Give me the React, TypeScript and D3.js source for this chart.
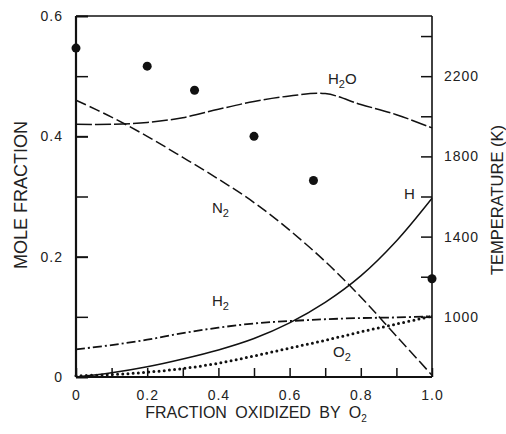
import React, { useRef, useEffect } from 'react';
import * as d3 from 'd3';

// fraction oxidized by O2 (x) for the species curves
const fracs = [0, 0.1, 0.2, 0.3, 0.4, 0.5, 0.6, 0.7, 0.8, 0.9, 1.0];
const h2o = [0.42, 0.42, 0.423, 0.431, 0.445, 0.458, 0.467, 0.471, 0.453, 0.436, 0.414];
const n2 = [0.46, 0.432, 0.4, 0.365, 0.329, 0.29, 0.244, 0.192, 0.133, 0.068, 0.003];
const hAtom = [0.0, 0.007, 0.017, 0.03, 0.045, 0.064, 0.09, 0.124, 0.168, 0.226, 0.297];
const h2 = [0.046, 0.053, 0.062, 0.073, 0.082, 0.089, 0.093, 0.096, 0.098, 0.099, 0.101];
const o2 = [0.002, 0.004, 0.008, 0.014, 0.023, 0.035, 0.048, 0.061, 0.075, 0.088, 0.101];

// temperature points (right axis)
const tempFracs = [0, 0.2, 0.333, 0.5, 0.667, 1.0];
const temps = [2340, 2250, 2130, 1900, 1680, 1190];

const xMajor = [0, 0.2, 0.4, 0.6, 0.8, 1.0];
const xMinor = [0.1, 0.3, 0.5, 0.7, 0.9];
const yMajor = [0, 0.2, 0.4, 0.6];
const yMinor = [0.1, 0.3, 0.5];
const tMajor = [1000, 1400, 1800, 2200];
const tMinor = [1200, 1600, 2000, 2400];

const FONT = '"Liberation Sans", Arial, sans-serif';

const App = () => {
  const svgRef = useRef(null);
  const width = 506;
  const height = 434;
  const margin = { top: 16, right: 74, bottom: 57, left: 76 };

  useEffect(() => {
    const svg = d3.select(svgRef.current);
    svg.selectAll('*').remove();

    const x = d3.scaleLinear().domain([0, 1]).range([margin.left, width - margin.right]);
    const y = d3.scaleLinear().domain([0, 0.6]).range([height - margin.bottom, margin.top]);
    const t = d3.scaleLinear().domain([700, 2500]).range([height - margin.bottom, margin.top]);

    const styleAxis = (g, major) => {
      g.select('.domain').remove();
      g.selectAll('line').attr('stroke', '#111').attr('stroke-width', major ? 2 : 1.5);
      g.selectAll('text')
        .attr('fill', '#222')
        .style('font-family', FONT)
        .style('font-size', '14px')
        .style('letter-spacing', '1px');
    };

    // bottom axis, ticks inward
    svg.append('g')
      .attr('transform', `translate(0,${height - margin.bottom})`)
      .call(d3.axisBottom(x).tickValues(xMajor).tickSizeInner(-9).tickSizeOuter(0).tickPadding(13)
        .tickFormat(d => (d === 0 ? '0' : d3.format('.1f')(d))))
      .call(g => styleAxis(g, false));
    svg.append('g')
      .attr('transform', `translate(0,${height - margin.bottom})`)
      .call(d3.axisBottom(x).tickValues(xMinor).tickSizeInner(-9).tickSizeOuter(0).tickFormat(''))
      .call(g => styleAxis(g, false));

    // left axis
    svg.append('g')
      .attr('transform', `translate(${margin.left},0)`)
      .call(d3.axisLeft(y).tickValues(yMajor).tickSizeInner(-12).tickSizeOuter(0).tickPadding(13)
        .tickFormat(d => (d === 0 ? '0' : d3.format('.1f')(d))))
      .call(g => styleAxis(g, true));
    svg.append('g')
      .attr('transform', `translate(${margin.left},0)`)
      .call(d3.axisLeft(y).tickValues(yMinor).tickSizeInner(-12).tickSizeOuter(0).tickFormat(''))
      .call(g => styleAxis(g, false));

    // right axis (temperature)
    svg.append('g')
      .attr('transform', `translate(${width - margin.right},0)`)
      .call(d3.axisRight(t).tickValues(tMajor).tickSizeInner(-11).tickSizeOuter(0).tickPadding(12)
        .tickFormat(d3.format('d')))
      .call(g => styleAxis(g, false));
    svg.append('g')
      .attr('transform', `translate(${width - margin.right},0)`)
      .call(d3.axisRight(t).tickValues(tMinor).tickSizeInner(-11).tickSizeOuter(0).tickFormat(''))
      .call(g => styleAxis(g, false));

    // frame
    const x0 = margin.left, x1 = width - margin.right;
    const y0 = margin.top, y1 = height - margin.bottom;
    svg.append('line').attr('x1', x0).attr('x2', x0).attr('y1', y0).attr('y2', y1)
      .attr('stroke', '#111').attr('stroke-width', 2.2);
    svg.append('line').attr('x1', x1).attr('x2', x1).attr('y1', y0).attr('y2', y1)
      .attr('stroke', '#111').attr('stroke-width', 1.6);
    svg.append('line').attr('x1', x0).attr('x2', x1).attr('y1', y0).attr('y2', y0)
      .attr('stroke', '#111').attr('stroke-width', 1.6);
    svg.append('line').attr('x1', x0).attr('x2', x1).attr('y1', y1).attr('y2', y1)
      .attr('stroke', '#111').attr('stroke-width', 2);

    // species curves
    const line = d3.line()
      .x((d, i) => x(fracs[i]))
      .y(d => y(d))
      .curve(d3.curveCatmullRom.alpha(0.5));

    const curves = [
      { values: h2o, dash: '16,3', width: 1.5, cap: 'butt' },
      { values: n2, dash: '11,4', width: 1.5, cap: 'butt' },
      { values: hAtom, dash: null, width: 1.5, cap: 'butt' },
      { values: h2, dash: '9,3,2,3', width: 1.8, cap: 'butt' },
      { values: o2, dash: '0,5.2', width: 3, cap: 'round' },
    ];
    curves.forEach(c => {
      svg.append('path')
        .datum(c.values)
        .attr('fill', 'none')
        .attr('stroke', '#111')
        .attr('stroke-width', c.width)
        .attr('stroke-linecap', c.cap)
        .attr('stroke-dasharray', c.dash)
        .attr('d', line);
    });

    // temperature dots
    svg.selectAll('circle.temp')
      .data(temps)
      .join('circle')
      .attr('class', 'temp')
      .attr('cx', (d, i) => x(tempFracs[i]))
      .attr('cy', d => t(d))
      .attr('r', 4.5)
      .attr('fill', '#111');

    // curve labels with subscripts
    const label = (px, py, main, sub, tail) => {
      const txt = svg.append('text')
        .attr('x', px).attr('y', py)
        .attr('fill', '#222')
        .style('font-family', FONT)
        .style('font-size', '15px');
      txt.append('tspan').text(main);
      if (sub) {
        txt.append('tspan').attr('dy', 4).style('font-size', '11px').text(sub);
        if (tail) txt.append('tspan').attr('dy', -4).text(tail);
      }
    };
    label(328, 84, 'H', '2', 'O');
    label(212, 213, 'N', '2');
    label(404, 199, 'H', null);
    label(212, 306, 'H', '2');
    label(333, 357, 'O', '2');

    // axis titles
    const xt = svg.append('text')
      .attr('x', (x0 + x1) / 2 + 2)
      .attr('y', 418)
      .attr('text-anchor', 'middle')
      .attr('fill', '#222')
      .style('font-family', FONT)
      .style('font-size', '16px')
      .style('word-spacing', '4px');
    xt.append('tspan').text('FRACTION OXIDIZED BY O');
    xt.append('tspan').attr('dy', 4).style('font-size', '10px').text('2');

    svg.append('text')
      .attr('transform', `translate(27,195) rotate(-90)`)
      .attr('text-anchor', 'middle')
      .attr('fill', '#222')
      .style('font-family', FONT)
      .style('font-size', '18px')
      .text('MOLE FRACTION');

    svg.append('text')
      .attr('transform', `translate(503,200) rotate(-90)`)
      .attr('text-anchor', 'middle')
      .attr('fill', '#222')
      .style('font-family', FONT)
      .style('font-size', '16.5px')
      .text('TEMPERATURE (K)');
  }, []);

  return (
    <svg
      ref={svgRef}
      width={width}
      height={height}
      style={{ position: 'absolute', left: 0, top: 0, background: '#fff' }}
    />
  );
};

export default App;
